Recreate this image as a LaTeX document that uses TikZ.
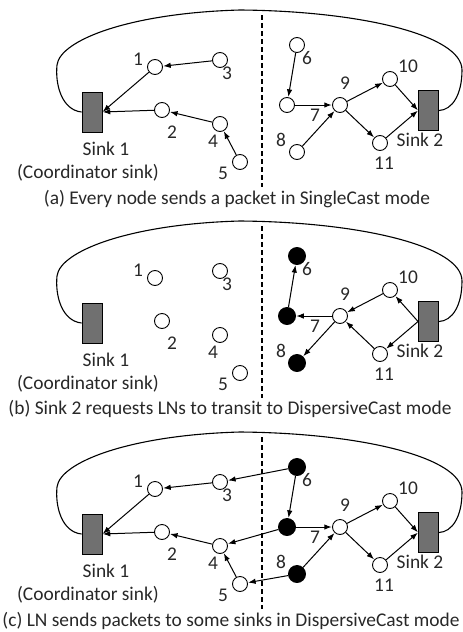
\documentclass[tikz,border=0pt]{standalone}
\usepackage{fontspec}
\setmainfont{Carlito}
\usetikzlibrary{arrows.meta}
\definecolor{sinkgray}{RGB}{112,112,112}
\definecolor{txt}{RGB}{40,40,40}
\tikzset{
 nd/.style={circle,draw,line width=0.9pt,fill=white,minimum size=15pt,inner sep=0pt},
 fnd/.style={circle,draw,line width=0.9pt,fill=black,minimum size=17pt,inner sep=0pt},
 sinkbox/.style={draw,line width=0.9pt,fill=sinkgray,minimum width=20pt,minimum height=40pt,inner sep=0pt},
 lbl/.style={font=\fontsize{19.4}{21}\selectfont,text=txt,inner sep=0pt},
 captxt/.style={font=\fontsize{19.4}{21}\selectfont,text=txt,inner sep=0pt},
 arr/.style={-{Latex[length=7.5pt,width=5.5pt]},line width=1pt,shorten >=0.3pt},
 outline/.style={line width=1.1pt},
 sep/.style={dash pattern=on 5pt off 3pt,line width=1.6pt}
}
\newcommand\panelnodes[4]{%
 \node[sinkbox] (#1s1) at (92,112) {};
 \node[sinkbox] (#1s2) at (428.5,110.5) {};
 \node[nd] (#1n1) at (155,67) {};
 \node[nd] (#1n2) at (162,110) {};
 \node[nd] (#1n3) at (220,60) {};
 \node[nd] (#1n4) at (220,124) {};
 \node[nd] (#1n5) at (240,162) {};
 \node[#2] (#1n6) at (297,45) {};
 \node[#3] (#1n7) at (287,105) {};
 \node[#4] (#1n8) at (297,152) {};
 \node[nd] (#1n9) at (340,105) {};
 \node[nd] (#1n10) at (390,79) {};
 \node[nd] (#1n11) at (380,143) {};
 \node[lbl] (#1l1) at (138,59) {1};
 \node[lbl] (#1l2) at (172,132) {2};
 \node[lbl] (#1l3) at (227,73) {3};
 \node[lbl] (#1l4) at (213,141) {4};
 \node[lbl] (#1l5) at (223,173) {5};
 \node[lbl] (#1l6) at (307,58) {6};
 \node[lbl] (#1l7) at (315,115) {7};
 \node[lbl] (#1l8) at (281,140) {8};
 \node[lbl] (#1l9) at (345,83) {9};
 \node[lbl] (#1l10) at (408,66) {10};
 \node[lbl] (#1l11) at (384,163) {11};
 \node[lbl] (#1ls1) at (106,149) {Sink 1};
 \node[lbl] (#1lc) at (88,173) {(Coordinator sink)};
 \node[lbl] (#1ls2) at (420,140) {Sink 2};
 \coordinate (#1top) at (240,10);
 \coordinate (#1left) at (57,65);
 \coordinate (#1right) at (462,70);
 \draw[outline] (#1s1.west) .. controls (62,110) and (55,85) .. (#1left)
   .. controls (60,40) and (130,13) .. (#1top)
   .. controls (360,11) and (462,35) .. (#1right)
   .. controls (462,95) and (452,110) .. (#1s2.east);
 \coordinate (#1d1) at (262,15);
 \coordinate (#1d2) at (262,187);
 \draw[sep] (#1d1) -- (#1d2);
}
\begin{document}
\begin{tikzpicture}[x=1pt,y=-1pt]
\useasboundingbox (0,0) rectangle (463,632);
% ---------- panel (a)
\panelnodes{a}{nd}{nd}{nd}
\draw[arr] (an3) -- (an1);
\draw[arr] (an1) -- (as1.east);
\draw[arr] (an2) -- (as1.east);
\draw[arr] (an4) -- (an2);
\draw[arr] (an5) -- (an4);
\draw[arr] (an6) -- (an7);
\draw[arr] (an7) -- (an9);
\draw[arr] (an8) -- (an9);
\draw[arr] (an9) -- (an10);
\draw[arr] (an9) -- (an11);
\draw[arr] (an10) -- (as2.west);
\draw[arr] (an11) -- (as2.west);
\node[captxt] (capa) at (237,199) {(a) Every node sends a packet in SingleCast mode};
% ---------- panel (b)
\begin{scope}[yshift=-211pt]
\panelnodes{b}{fnd}{fnd}{fnd}
\draw[arr] (bs2.west) -- (bn10);
\draw[arr] (bs2.west) -- (bn11);
\draw[arr] (bn10) -- (bn9);
\draw[arr] (bn11) -- (bn9);
\draw[arr] (bn9) -- (bn7);
\draw[arr] (bn9) -- (bn8);
\draw[arr] (bn7) -- (bn6);
\node[captxt] (capb) at (230,198) {(b) Sink 2 requests LNs to transit to DispersiveCast mode};
\end{scope}
% ---------- panel (c)
\begin{scope}[yshift=-422pt]
\panelnodes{c}{fnd}{fnd}{fnd}
\draw[arr] (cn3) -- (cn1);
\draw[arr] (cn1) -- (cs1.east);
\draw[arr] (cn2) -- (cs1.east);
\draw[arr] (cn4) -- (cn2);
\draw[arr] (cn5) -- (cn4);
\draw[arr] (cn6) -- (cn3);
\draw[arr] (cn6) -- (cn7);
\draw[arr] (cn7) -- (cn4);
\draw[arr] (cn8) -- (cn5);
\draw[arr] (cn7) -- (cn9);
\draw[arr] (cn8) -- (cn9);
\draw[arr] (cn9) -- (cn10);
\draw[arr] (cn9) -- (cn11);
\draw[arr] (cn10) -- (cs2.west);
\draw[arr] (cn11) -- (cs2.west);
\node[captxt] (capc) at (231,199) {(c) LN sends packets to some sinks in DispersiveCast mode};
\end{scope}
\end{tikzpicture}
\end{document}
